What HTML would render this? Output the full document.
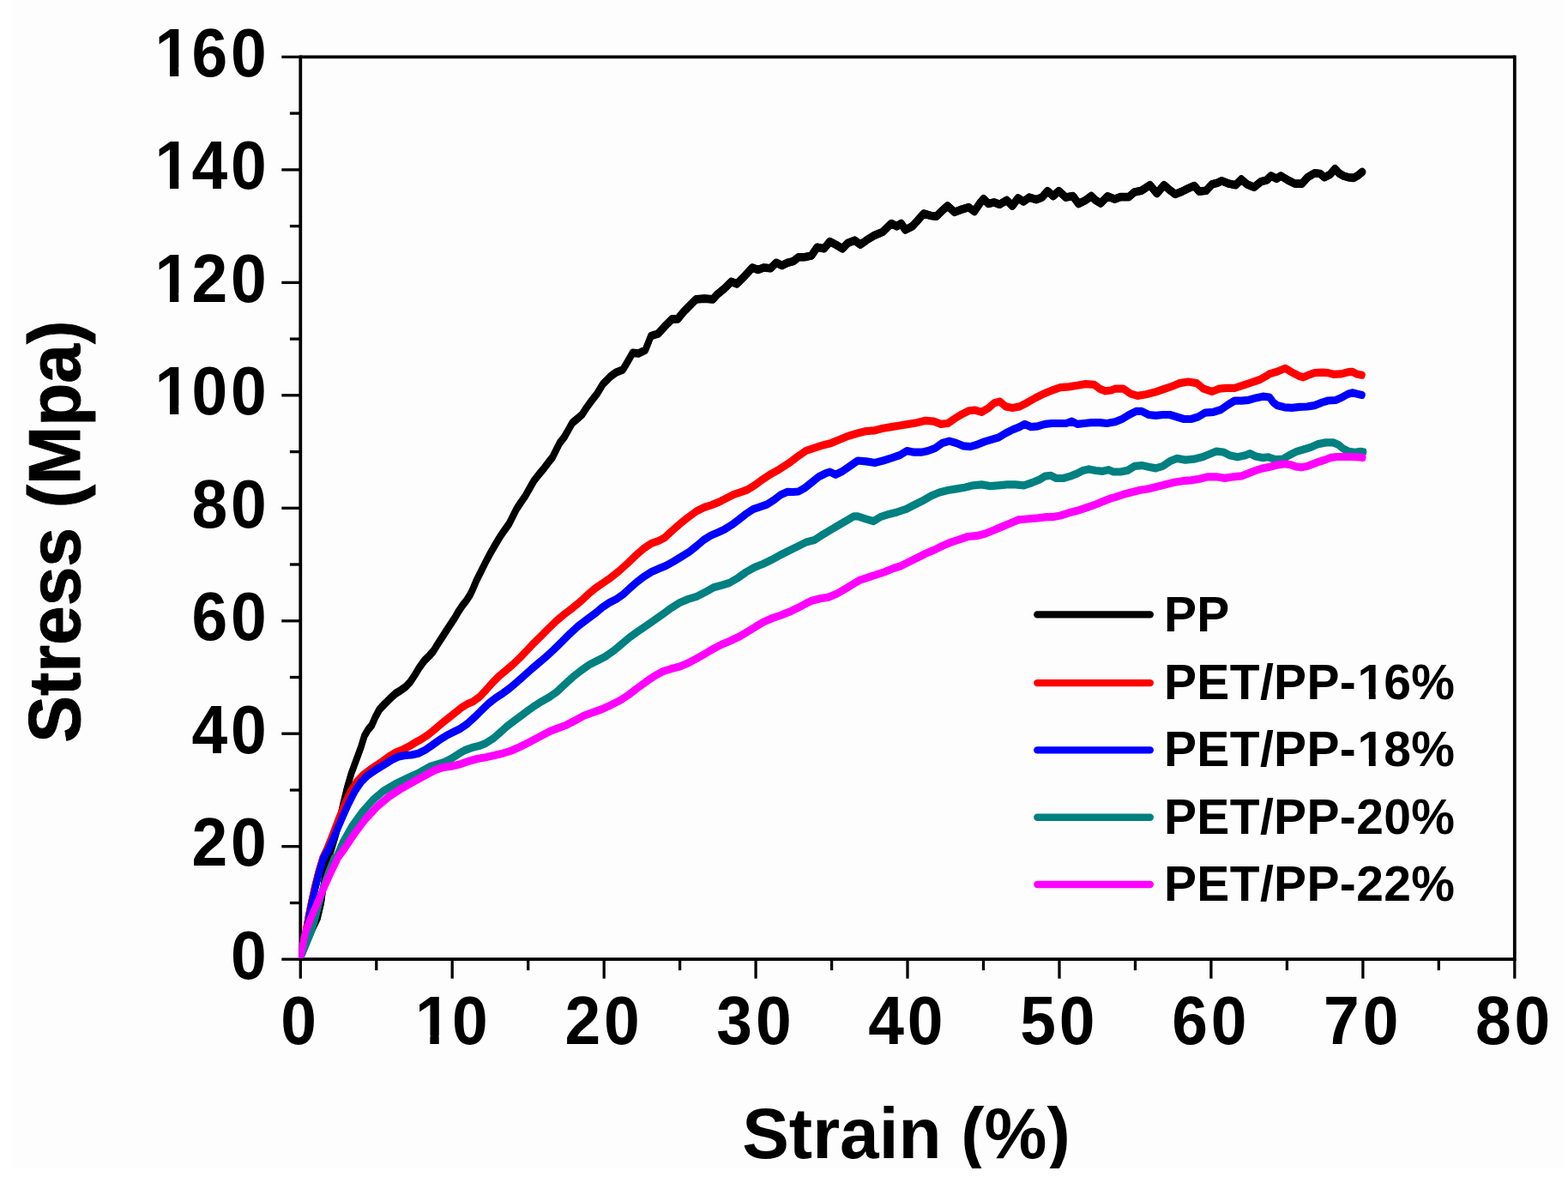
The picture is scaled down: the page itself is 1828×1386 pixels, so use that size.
<!DOCTYPE html>
<html lang="en"><head><meta charset="utf-8"><title>Stress-Strain curves</title>
<style>html,body{margin:0;padding:0;background:#fff;}body{width:1828px;height:1386px;overflow:hidden;}svg{display:block;}text{font-family:"Liberation Sans", Arial, Helvetica, sans-serif;font-weight:bold;fill:#000;}</style>
</head><body>
<svg width="1828" height="1386" viewBox="0 0 1828 1386">
<defs><clipPath id="plot"><rect x="348.7" y="66.4" width="1417.1" height="1050.5"/></clipPath>
<clipPath id="page"><rect x="13" y="0" width="1815" height="1362"/></clipPath></defs>
<rect x="0" y="0" width="1828" height="1386" fill="#ffffff"/>
<rect x="13" y="0" width="1811" height="1362" fill="#fdfdfd"/>
<g stroke="#000" stroke-width="3.8" fill="none" stroke-linecap="butt">
<line x1="350.3" y1="64.5" x2="350.3" y2="1120.1"/>
<line x1="1765.8" y1="64.5" x2="1765.8" y2="1120.1"/>
<line x1="350.3" y1="66.4" x2="1765.8" y2="66.4"/>
<line x1="350.3" y1="1118.2" x2="1765.8" y2="1118.2"/>
</g>
<g stroke="#000" stroke-width="3.3" fill="none" stroke-linecap="butt">
<line x1="328.3" y1="1118.2" x2="350.3" y2="1118.2"/>
<line x1="337.9" y1="1052.5" x2="350.3" y2="1052.5"/>
<line x1="328.3" y1="986.7" x2="350.3" y2="986.7"/>
<line x1="337.9" y1="921.0" x2="350.3" y2="921.0"/>
<line x1="328.3" y1="855.2" x2="350.3" y2="855.2"/>
<line x1="337.9" y1="789.5" x2="350.3" y2="789.5"/>
<line x1="328.3" y1="723.8" x2="350.3" y2="723.8"/>
<line x1="337.9" y1="658.0" x2="350.3" y2="658.0"/>
<line x1="328.3" y1="592.3" x2="350.3" y2="592.3"/>
<line x1="337.9" y1="526.6" x2="350.3" y2="526.6"/>
<line x1="328.3" y1="460.8" x2="350.3" y2="460.8"/>
<line x1="337.9" y1="395.1" x2="350.3" y2="395.1"/>
<line x1="328.3" y1="329.4" x2="350.3" y2="329.4"/>
<line x1="337.9" y1="263.6" x2="350.3" y2="263.6"/>
<line x1="328.3" y1="197.9" x2="350.3" y2="197.9"/>
<line x1="337.9" y1="132.1" x2="350.3" y2="132.1"/>
<line x1="328.3" y1="66.4" x2="350.3" y2="66.4"/>
<line x1="350.3" y1="1118.2" x2="350.3" y2="1140.7"/>
<line x1="438.8" y1="1118.2" x2="438.8" y2="1131.1"/>
<line x1="527.2" y1="1118.2" x2="527.2" y2="1140.7"/>
<line x1="615.7" y1="1118.2" x2="615.7" y2="1131.1"/>
<line x1="704.2" y1="1118.2" x2="704.2" y2="1140.7"/>
<line x1="792.6" y1="1118.2" x2="792.6" y2="1131.1"/>
<line x1="881.1" y1="1118.2" x2="881.1" y2="1140.7"/>
<line x1="969.6" y1="1118.2" x2="969.6" y2="1131.1"/>
<line x1="1058.0" y1="1118.2" x2="1058.0" y2="1140.7"/>
<line x1="1146.5" y1="1118.2" x2="1146.5" y2="1131.1"/>
<line x1="1235.0" y1="1118.2" x2="1235.0" y2="1140.7"/>
<line x1="1323.5" y1="1118.2" x2="1323.5" y2="1131.1"/>
<line x1="1411.9" y1="1118.2" x2="1411.9" y2="1140.7"/>
<line x1="1500.4" y1="1118.2" x2="1500.4" y2="1131.1"/>
<line x1="1588.9" y1="1118.2" x2="1588.9" y2="1140.7"/>
<line x1="1677.3" y1="1118.2" x2="1677.3" y2="1131.1"/>
<line x1="1765.8" y1="1118.2" x2="1765.8" y2="1140.7"/>
</g>
<g clip-path="url(#plot)" fill="none" stroke-linejoin="round" stroke-linecap="round">
<g stroke="#000000" stroke-width="7.0">
<polyline id="c-black" points="350.1,1116.5 351.2,1113.8 361.9,1087.5 370.3,1070.0 374.4,1052.5 376.8,1035.0 379.4,1017.5 382.9,1000.0 386.4,990.0 391.6,972.5 396.0,955.0 400.0,937.5 404.2,920.0 409.4,902.1 415.5,885.4 421.0,870.4 424.9,857.7 429.0,850.7 433.5,845.3 437.4,836.3 442.2,827.3 448.3,820.7 454.9,814.2 461.2,808.4 467.2,804.7 472.9,800.6 478.3,794.9 483.4,787.1 488.9,778.1 494.7,770.1 500.4,764.5 505.3,759.0 509.9,751.4 515.2,743.2 520.5,735.0 525.4,727.6 530.2,720.2 534.7,712.4 539.2,705.8 543.7,700.1 548.0,693.5 551.5,686.2 554.9,677.9 560.0,667.6 565.8,656.0 571.6,645.0 577.3,635.1 582.7,626.1 588.0,618.3 593.3,610.9 597.9,601.9 602.4,592.9 607.3,585.5 612.2,578.5 617.1,569.9 622.5,560.4 628.6,552.6 634.4,545.7 639.3,539.1 644.2,533.0 648.3,524.7 652.4,516.5 657.8,509.6 662.7,501.0 667.2,493.0 672.9,488.2 678.7,483.1 683.6,475.5 689.3,467.7 696.1,458.8 703.1,447.4 711.3,439.2 717.9,434.3 726.1,431.0 731.0,422.8 737.6,411.3 744.2,412.1 752.4,408.0 758.9,391.6 767.1,389.1 775.3,380.1 783.5,371.9 790.1,371.9 796.7,363.7 804.9,355.5 811.4,348.9 821.3,348.1 831.1,348.9 836.1,343.2 844.3,336.6 852.5,328.4 859.0,330.9 867.2,322.7 877.1,312.0 883.7,314.5 890.2,312.0 898.4,312.8 905.0,306.3 911.6,309.5 918.1,306.3 924.7,304.6 931.2,299.7 937.8,299.7 946.0,298.1 952.6,288.2 960.8,289.8 967.4,281.6 973.9,284.9 982.1,289.8 988.2,283.4 996.4,280.2 1003.0,285.1 1011.2,279.3 1019.4,274.4 1029.2,270.3 1039.1,260.5 1045.6,263.8 1050.6,260.5 1055.5,267.9 1063.7,263.8 1070.3,256.4 1076.8,249.0 1085.0,251.4 1091.6,252.3 1098.2,245.7 1104.7,240.0 1112.9,247.3 1121.1,244.1 1129.3,241.6 1135.9,246.5 1142.5,236.7 1146.6,231.8 1152.3,237.5 1158.9,235.9 1165.4,238.3 1173.7,233.4 1180.2,240.0 1186.8,230.9 1193.3,235.0 1199.9,230.1 1208.1,232.6 1214.7,230.1 1221.2,222.7 1227.8,228.5 1234.4,222.7 1242.6,230.1 1250.8,228.5 1257.4,237.5 1265.6,233.4 1272.1,228.5 1276.6,232.9 1283.1,237.0 1291.3,228.8 1299.5,232.1 1306.1,229.6 1316.0,229.6 1322.5,223.9 1330.7,222.3 1340.6,215.7 1348.8,225.5 1357.0,215.7 1363.5,221.4 1370.1,226.4 1378.3,223.1 1384.9,219.8 1392.3,216.5 1398.0,223.1 1406.2,222.3 1412.8,214.9 1419.3,213.2 1424.3,210.8 1432.5,214.1 1440.7,215.7 1447.2,209.1 1453.8,214.9 1462.0,218.2 1470.2,211.6 1476.8,210.0 1481.7,205.0 1488.3,208.3 1493.2,205.0 1501.4,210.0 1509.6,214.1 1517.8,214.1 1524.4,206.7 1532.6,201.8 1539.1,202.6 1544.1,206.7 1550.6,203.4 1556.4,196.8 1561.2,202.1 1566.5,205.1 1571.9,206.7 1578.0,207.4 1583.4,204.4 1588.0,200.5"/>
<use href="#c-black" y="-1.3"/><use href="#c-black" y="1.3"/>
<polyline points="767.1,389.1 775.3,380.1 783.5,371.9 790.1,371.9 796.7,363.7 804.9,355.5 811.4,348.9 821.3,348.1 831.1,348.9 836.1,343.2 844.3,336.6 852.5,328.4 859.0,330.9 867.2,322.7 877.1,312.0 883.7,314.5 890.2,312.0 898.4,312.8 905.0,306.3 911.6,309.5 918.1,306.3 924.7,304.6 931.2,299.7 937.8,299.7 946.0,298.1 952.6,288.2 960.8,289.8 967.4,281.6 973.9,284.9 982.1,289.8 988.2,283.4 996.4,280.2 1003.0,285.1 1011.2,279.3 1019.4,274.4 1029.2,270.3 1039.1,260.5 1045.6,263.8 1050.6,260.5 1055.5,267.9 1063.7,263.8 1070.3,256.4 1076.8,249.0 1085.0,251.4 1091.6,252.3 1098.2,245.7 1104.7,240.0 1112.9,247.3 1121.1,244.1 1129.3,241.6 1135.9,246.5 1142.5,236.7 1146.6,231.8 1152.3,237.5 1158.9,235.9 1165.4,238.3 1173.7,233.4 1180.2,240.0 1186.8,230.9 1193.3,235.0 1199.9,230.1 1208.1,232.6 1214.7,230.1 1221.2,222.7 1227.8,228.5 1234.4,222.7 1242.6,230.1 1250.8,228.5 1257.4,237.5 1265.6,233.4 1272.1,228.5 1276.6,232.9 1283.1,237.0 1291.3,228.8 1299.5,232.1 1306.1,229.6 1316.0,229.6 1322.5,223.9 1330.7,222.3 1340.6,215.7 1348.8,225.5 1357.0,215.7 1363.5,221.4 1370.1,226.4 1378.3,223.1 1384.9,219.8 1392.3,216.5 1398.0,223.1 1406.2,222.3 1412.8,214.9 1419.3,213.2 1424.3,210.8 1432.5,214.1 1440.7,215.7 1447.2,209.1 1453.8,214.9 1462.0,218.2 1470.2,211.6 1476.8,210.0 1481.7,205.0 1488.3,208.3 1493.2,205.0 1501.4,210.0 1509.6,214.1 1517.8,214.1 1524.4,206.7 1532.6,201.8 1539.1,202.6 1544.1,206.7 1550.6,203.4 1556.4,196.8 1561.2,202.1 1566.5,205.1 1571.9,206.7 1578.0,207.4 1583.4,204.4 1588.0,200.5" stroke-width="9.0"/>
</g>
<g stroke="#ff0000" stroke-width="7.6">
<polyline id="c-red" points="350.1,1116.5 356.2,1087.5 359.3,1070.0 362.8,1052.5 366.7,1035.0 371.1,1017.5 376.3,1000.0 381.1,990.0 388.1,972.5 394.7,955.0 401.9,937.5 409.0,922.2 415.7,911.5 423.4,903.4 433.3,895.9 444.0,888.8 453.2,882.1 461.4,877.1 469.6,873.7 477.0,870.0 483.6,865.9 491.0,861.8 498.8,856.8 506.2,850.7 514.0,844.1 522.2,837.5 530.4,831.0 538.2,824.8 545.1,820.5 551.7,817.7 558.7,812.7 566.1,804.9 573.5,796.5 581.2,788.7 589.5,781.8 597.7,774.8 605.9,767.0 614.1,758.4 622.3,749.7 630.4,741.8 638.7,733.4 648.1,724.2 657.9,716.0 667.7,708.6 677.2,700.8 685.8,692.6 694.0,685.7 702.6,679.9 712.1,673.3 721.9,665.5 731.8,656.5 741.6,647.1 751.0,638.9 759.6,633.3 767.4,630.7 774.8,626.8 783.0,619.2 792.5,610.8 802.3,603.0 811.8,596.0 820.8,591.5 829.8,588.6 838.4,585.1 846.6,580.8 854.8,576.7 863.0,573.8 871.2,571.0 879.9,565.6 889.3,558.7 899.1,552.3 909.0,546.8 919.1,540.3 929.6,532.4 939.7,525.4 949.5,522.2 959.4,518.9 969.2,516.4 979.1,512.3 988.9,508.2 1000.0,505.0 1009.8,502.6 1019.7,501.8 1029.5,499.3 1039.4,497.6 1049.2,496.0 1059.1,494.4 1068.9,492.7 1078.8,490.3 1088.6,491.1 1096.8,494.4 1105.0,493.5 1113.2,487.8 1121.4,482.9 1129.6,478.8 1136.2,478.0 1144.4,480.4 1152.6,475.5 1159.2,469.7 1165.8,468.1 1172.3,473.9 1180.5,475.5 1188.7,473.9 1196.9,469.7 1206.8,464.0 1216.6,459.1 1226.5,455.0 1236.3,451.7 1246.2,450.9 1256.0,449.2 1265.9,447.6 1275.7,448.4 1282.3,453.3 1288.8,455.8 1295.4,455.0 1299.8,453.2 1309.7,453.2 1317.9,458.9 1326.1,461.4 1336.0,459.7 1345.8,457.3 1355.6,454.0 1365.5,450.7 1375.3,446.6 1385.2,445.0 1395.0,446.6 1403.2,453.2 1413.1,456.5 1421.3,453.2 1429.5,452.4 1439.3,452.4 1449.2,449.1 1459.0,445.8 1468.9,442.5 1478.7,436.8 1480.0,435.9 1488.8,433.3 1498.4,429.3 1506.3,434.1 1515.0,438.5 1519.4,439.8 1526.4,436.8 1532.5,434.6 1541.3,434.1 1548.3,434.6 1554.4,436.3 1563.2,435.9 1571.9,433.7 1576.3,433.3 1581.5,435.9 1587.7,437.2"/>
<use href="#c-red" y="-0.8"/><use href="#c-red" y="0.8"/>
</g>
<g stroke="#0000ff" stroke-width="7.6">
<polyline id="c-blue" points="350.1,1116.5 357.1,1087.5 360.1,1070.0 363.6,1052.5 367.6,1035.0 371.9,1017.5 377.2,1000.0 382.9,990.0 390.8,972.5 398.2,955.0 406.0,937.5 413.7,922.2 421.0,911.5 429.1,903.6 439.3,896.6 449.4,890.5 457.2,885.6 464.7,882.1 472.5,880.4 479.9,880.0 487.7,878.2 495.9,874.1 504.1,868.5 512.3,862.6 520.5,857.4 528.7,853.3 536.9,849.2 545.1,843.5 553.3,835.9 561.6,827.7 569.8,819.9 578.0,813.5 586.2,808.2 594.4,802.1 602.6,795.1 610.8,787.9 619.0,780.5 627.2,773.5 635.7,766.4 644.9,758.0 654.6,748.4 664.5,738.6 674.3,729.6 684.2,722.2 693.6,715.2 702.2,708.0 710.4,702.5 718.6,698.4 726.8,692.6 735.0,685.0 743.2,677.9 751.4,671.7 759.6,666.6 767.9,662.9 776.1,659.6 784.7,654.9 794.1,649.1 803.6,643.2 812.2,636.4 820.4,629.4 828.6,624.3 836.8,620.8 845.0,616.9 853.2,611.8 861.4,605.6 869.6,599.1 877.8,593.7 886.0,590.9 894.2,588.0 902.4,582.7 910.2,576.7 917.6,573.4 924.5,573.5 930.8,573.0 938.1,568.9 946.3,562.4 954.5,555.8 962.7,551.7 967.6,550.1 974.2,553.3 982.4,549.2 990.6,543.5 1000.0,537.0 1009.8,537.9 1019.7,539.5 1029.5,537.0 1039.4,533.8 1049.2,530.5 1057.4,525.5 1065.6,527.2 1073.9,527.2 1082.1,525.5 1090.3,522.3 1098.5,516.5 1106.7,514.1 1114.9,516.5 1123.1,519.8 1131.3,520.6 1139.5,518.2 1147.7,514.9 1155.9,512.4 1164.1,510.0 1172.3,505.0 1180.5,500.9 1188.7,497.6 1194.5,494.4 1201.9,497.6 1210.1,496.8 1218.3,494.4 1226.5,493.5 1234.7,493.5 1242.9,493.5 1249.5,491.1 1256.0,494.4 1264.2,493.5 1272.4,492.7 1282.3,492.7 1290.5,493.5 1299.8,491.8 1308.1,488.5 1316.3,483.5 1324.5,479.4 1331.0,479.4 1339.2,483.5 1347.4,484.4 1355.6,483.5 1363.9,483.5 1372.1,486.0 1380.3,488.5 1388.5,488.5 1396.7,486.0 1404.9,481.1 1414.7,480.3 1422.9,477.8 1431.1,472.1 1439.3,467.1 1447.5,467.1 1455.8,466.3 1464.0,463.9 1472.2,462.2 1480.0,463.0 1484.4,469.1 1488.8,472.6 1497.5,474.8 1506.3,475.3 1515.0,474.4 1523.8,474.0 1532.5,472.6 1541.3,469.1 1548.3,467.0 1557.0,466.5 1564.0,463.5 1571.0,459.5 1576.3,457.8 1581.5,459.1 1587.7,460.4"/>
<use href="#c-blue" y="-0.8"/><use href="#c-blue" y="0.8"/>
</g>
<g stroke="#008080" stroke-width="7.6">
<polyline id="c-teal" points="350.1,1116.5 351.4,1113.8 362.3,1087.5 367.6,1070.0 371.9,1052.5 376.8,1035.0 382.9,1017.5 389.9,1000.0 392.5,998.8 400.0,981.3 409.9,963.8 422.1,946.7 434.7,932.5 446.6,922.4 461.0,913.8 477.2,906.0 488.2,901.1 494.2,897.5 500.8,893.8 509.0,891.3 517.2,888.8 525.4,884.7 533.7,879.4 541.9,874.5 550.1,871.6 558.3,869.6 566.5,866.3 574.7,861.1 582.9,854.0 591.1,846.6 599.3,840.4 607.5,834.3 615.7,828.1 623.9,822.4 632.0,817.3 640.4,812.6 649.3,806.3 658.3,797.9 667.7,789.3 677.6,781.5 687.0,774.9 696.1,770.2 705.5,765.5 715.3,758.7 724.8,750.7 733.8,743.1 743.2,736.4 753.1,729.6 762.9,722.8 772.8,715.8 782.6,708.7 792.5,702.5 802.3,698.4 812.2,695.4 822.0,690.3 831.9,684.8 841.3,682.2 850.3,679.5 859.8,674.0 869.6,667.0 879.5,661.4 889.3,657.5 899.1,652.8 909.0,647.3 919.2,642.2 929.6,637.1 939.7,632.1 949.5,629.6 959.4,623.1 969.2,617.3 977.4,612.4 987.3,606.7 995.5,601.8 1000.0,601.9 1009.8,605.1 1018.1,607.6 1026.3,602.7 1036.1,599.4 1046.0,596.9 1055.8,593.7 1065.6,588.7 1075.5,583.8 1085.3,578.1 1095.2,574.0 1105.0,571.5 1114.9,569.9 1124.7,568.2 1134.6,565.8 1144.4,564.9 1154.3,566.6 1164.1,565.8 1174.0,564.9 1183.8,564.9 1193.7,565.8 1203.5,562.5 1211.7,559.2 1218.3,555.1 1224.8,554.3 1231.4,557.5 1239.6,557.5 1247.8,555.1 1256.0,551.8 1262.6,548.5 1269.1,546.9 1277.4,548.5 1285.6,549.3 1292.1,547.7 1298.2,550.0 1306.4,550.0 1314.6,548.4 1322.8,543.4 1331.0,542.6 1339.2,544.3 1347.4,545.9 1355.6,543.4 1363.9,537.7 1372.1,534.4 1381.9,536.1 1391.8,535.2 1401.6,532.8 1409.8,529.5 1418.0,526.2 1426.2,527.0 1434.4,531.1 1442.6,532.8 1450.8,531.1 1457.4,528.7 1464.0,532.0 1472.2,533.6 1478.7,532.8 1480.0,533.4 1487.0,535.6 1495.8,535.1 1502.8,530.8 1511.5,526.4 1520.3,523.8 1529.0,521.1 1536.9,517.6 1545.6,515.9 1554.4,515.9 1560.5,518.5 1565.8,522.9 1572.8,526.4 1579.8,527.3 1585.9,526.4 1589.4,526.8"/>
<use href="#c-teal" y="-0.8"/><use href="#c-teal" y="0.8"/>
</g>
<g stroke="#ff00ff" stroke-width="7.6">
<polyline id="c-magenta" points="350.1,1116.5 352.3,1105.0 355.8,1087.5 362.4,1070.0 370.0,1052.5 377.6,1035.0 385.5,1017.5 393.8,1000.0 402.4,988.1 412.8,972.5 425.9,955.0 440.2,939.7 453.3,928.8 466.7,920.0 481.8,911.5 496.1,903.7 507.4,897.5 517.2,894.4 527.1,893.1 536.9,890.7 546.8,887.2 556.6,884.5 566.5,882.7 576.3,880.6 586.2,878.2 596.0,875.1 605.9,870.8 615.7,865.9 625.6,860.7 634.1,856.1 641.2,852.4 649.7,849.2 659.5,845.5 669.8,840.2 680.5,834.4 690.7,830.7 701.0,827.0 712.1,821.9 723.1,816.4 733.4,809.6 743.2,802.0 753.1,794.8 762.9,788.1 772.8,782.7 782.6,779.6 792.5,777.0 802.3,772.9 812.2,767.7 822.0,762.0 831.9,756.1 841.7,751.1 851.6,747.0 861.4,742.3 871.2,736.6 881.1,730.4 890.9,724.7 900.8,720.4 910.6,717.1 920.4,713.2 929.6,708.8 938.1,704.3 946.3,700.2 956.1,697.8 966.0,696.1 975.8,692.0 985.6,686.3 993.9,681.3 1002.1,676.4 1011.9,673.1 1021.8,669.9 1031.6,666.6 1041.4,662.5 1049.6,660.0 1059.5,655.1 1069.3,650.2 1079.2,645.2 1089.0,641.1 1098.9,636.2 1108.7,632.1 1118.6,628.8 1128.4,625.5 1138.3,624.7 1148.1,622.3 1158.0,618.2 1167.8,614.1 1177.7,610.0 1187.5,605.9 1197.4,605.0 1207.2,604.2 1220.0,602.6 1226.5,602.7 1236.3,601.0 1246.2,597.8 1256.0,595.3 1265.9,592.0 1275.7,588.7 1285.6,584.6 1293.8,581.3 1299.8,579.6 1309.7,576.3 1319.5,573.8 1329.4,571.3 1339.2,569.7 1349.1,567.2 1358.9,564.8 1368.8,562.3 1378.6,560.7 1388.5,559.9 1398.3,558.2 1408.2,555.8 1418.0,555.8 1427.9,557.4 1437.7,555.8 1447.5,554.9 1455.8,551.7 1464.0,548.4 1472.2,545.9 1480.4,544.3 1488.8,542.1 1497.5,540.8 1504.5,541.7 1510.6,543.9 1516.8,544.8 1523.8,543.5 1530.8,540.8 1537.8,538.2 1544.8,536.0 1551.8,533.4 1558.8,532.5 1567.5,532.5 1576.3,532.5 1585.0,533.0 1588.5,533.4"/>
<use href="#c-magenta" y="-0.8"/><use href="#c-magenta" y="0.8"/>
</g>
</g>
<g font-size="79">
<text transform="scale(0.95,1)" x="283.30" y="1140.8">0</text>
<text transform="scale(0.95,1)" x="235.37 283.30" y="1009.3">20</text>
<text transform="scale(0.95,1)" x="235.37 283.30" y="877.9">40</text>
<text transform="scale(0.95,1)" x="235.37 283.30" y="746.4">60</text>
<text transform="scale(0.95,1)" x="235.37 283.30" y="614.9">80</text>
<text transform="scale(0.95,1)" x="189.96 235.37 283.30" y="483.4">100</text>
<text transform="scale(0.95,1)" x="189.96 235.37 283.30" y="352.0">120</text>
<text transform="scale(0.95,1)" x="189.96 235.37 283.30" y="220.5">140</text>
<text transform="scale(0.95,1)" x="189.96 235.37 283.30" y="89.0">160</text>
<text transform="scale(0.95,1)" x="344.56" y="1217.0">0</text>
<text transform="scale(0.95,1)" x="509.37 554.78" y="1217.0">10</text>
<text transform="scale(0.95,1)" x="693.09 741.03" y="1217.0">20</text>
<text transform="scale(0.95,1)" x="879.34 927.28" y="1217.0">30</text>
<text transform="scale(0.95,1)" x="1065.59 1113.53" y="1217.0">40</text>
<text transform="scale(0.95,1)" x="1251.84 1299.78" y="1217.0">50</text>
<text transform="scale(0.95,1)" x="1438.09 1486.03" y="1217.0">60</text>
<text transform="scale(0.95,1)" x="1624.34 1672.28" y="1217.0">70</text>
<text transform="scale(0.95,1)" x="1810.59 1858.53" y="1217.0">80</text>
</g>
<g clip-path="url(#page)">
<text transform="translate(1056.5,1349.7) scale(1,1.025)" font-size="82" text-anchor="middle">Strain (%)</text>
</g>
<text transform="translate(92.6,619.8) rotate(-90) scale(1,1.03)" font-size="82" text-anchor="middle" stroke="#000" stroke-width="0.9" stroke-linejoin="round">Stress (Mpa)</text>
<g font-size="57" letter-spacing="0.35">
<line x1="1209.3" y1="716.4" x2="1340.8" y2="716.4" stroke="#000000" stroke-width="8.4" stroke-linecap="round"/>
<text id="leg0" x="1357" y="736.1">PP</text>
<line x1="1209.3" y1="796.1" x2="1340.8" y2="796.1" stroke="#ff0000" stroke-width="8.4" stroke-linecap="round"/>
<text id="leg1" x="1357" y="815.0">PET/PP-<tspan dx="1.4">1</tspan><tspan dx="-1.4">6</tspan>%</text>
<line x1="1209.3" y1="874.4" x2="1340.8" y2="874.4" stroke="#0000ff" stroke-width="8.4" stroke-linecap="round"/>
<text id="leg2" x="1357" y="893.3">PET/PP-<tspan dx="1.4">1</tspan><tspan dx="-1.4">8</tspan>%</text>
<line x1="1209.3" y1="952.7" x2="1340.8" y2="952.7" stroke="#008080" stroke-width="8.4" stroke-linecap="round"/>
<text id="leg3" x="1357" y="971.5">PET/PP-20%</text>
<line x1="1209.3" y1="1031.0" x2="1340.8" y2="1031.0" stroke="#ff00ff" stroke-width="8.4" stroke-linecap="round"/>
<text id="leg4" x="1357" y="1050.4">PET/PP-22%</text>
</g>
<g id="masks" fill="#fdfdfd"><rect x="183.99" y="473.16" width="13.99" height="12.06"/><rect x="208.27" y="473.16" width="13.04" height="12.06"/><rect x="183.99" y="341.69" width="13.99" height="12.06"/><rect x="208.27" y="341.69" width="13.04" height="12.06"/><rect x="183.99" y="210.21" width="13.99" height="12.06"/><rect x="208.27" y="210.21" width="13.04" height="12.06"/><rect x="183.99" y="78.74" width="13.99" height="12.06"/><rect x="208.27" y="78.74" width="13.04" height="12.06"/><rect x="487.42" y="1206.74" width="13.99" height="12.06"/><rect x="511.71" y="1206.74" width="13.04" height="12.06"/><rect x="1584.96" y="806.98" width="10.91" height="9.82"/><rect x="1603.69" y="806.98" width="10.19" height="9.82"/><rect x="1584.96" y="885.28" width="10.91" height="9.82"/><rect x="1603.69" y="885.28" width="10.19" height="9.82"/></g>
</svg></body></html>
